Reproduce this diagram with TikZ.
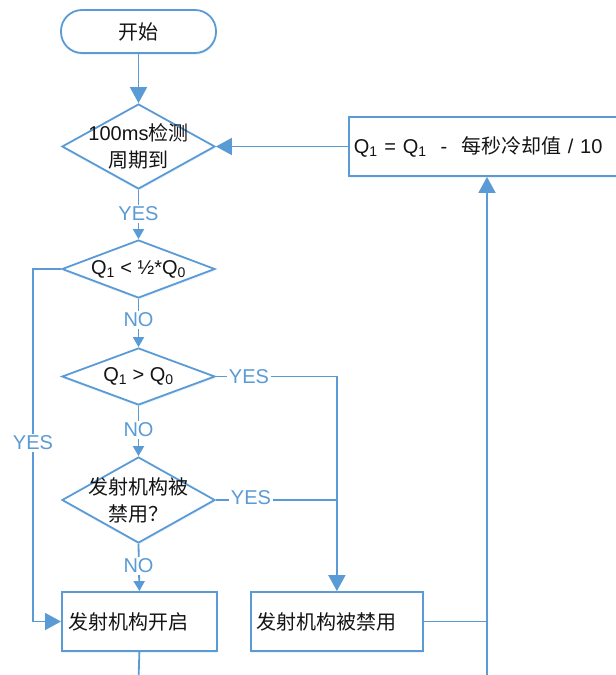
\documentclass[tikz,border=0pt]{standalone}
\usepackage{fontspec}
\setmainfont{Liberation Sans}
\newfontfamily\cjkfont{Noto Sans CJK SC}
\newcommand{\zh}[1]{{\cjkfont #1}}
\usetikzlibrary{shapes.geometric,arrows.meta,shadows}
\definecolor{fblue}{HTML}{5B9BD5}
\definecolor{ftext}{HTML}{141414}
\begin{document}
\begin{tikzpicture}[x=1pt,y=-1pt,
  font=\fontsize{20}{27}\selectfont,
  base/.style={draw=fblue, line width=1.8pt, fill=white, text=ftext,
    drop shadow={shadow xshift=0.5pt, shadow yshift=-2pt, fill=fblue, opacity=0.12}},
  term/.style={base, rectangle, rounded corners=21pt, minimum width=155pt, minimum height=43pt, inner sep=0pt},
  dec/.style={base, diamond, inner sep=0pt, minimum width=153pt},
  proc/.style={base, rectangle, minimum height=59pt, inner ysep=0pt, align=left, anchor=west},
  conn/.style={draw=fblue, line width=1.8pt},
  bigarrow/.style={conn, -{Triangle[length=16pt,width=17pt]}},
  smallarrow/.style={conn, -{Triangle[length=10pt,width=11pt]}},
  lbl/.style={fill=white, text=fblue, inner sep=1.5pt},
  dtext/.style={align=center, text=ftext}
]
\useasboundingbox (0,0) rectangle (616,675);

% nodes
\node[term] (start) at (138.5,31.5) {\zh{开始}};
\node[dec, minimum height=85pt, label={[dtext]center:100ms\zh{检测}\\\zh{周期到}}] (d1) at (138.5,146.5) {};
\node[dec, minimum height=58pt, label={[dtext]center:Q\textsubscript{1} < ½*Q\textsubscript{0}}] (d2) at (138.5,269) {};
\node[dec, minimum height=57pt, label={[dtext]center:Q\textsubscript{1} > Q\textsubscript{0}}] (d3) at (138.5,376.5) {};
\node[dec, minimum height=86pt, label={[dtext]center:\zh{发射机构被}\\\zh{禁用？}}] (d4) at (138.5,500) {};

\node[proc, inner xsep=5pt, text width=262pt] (qbox) at (348,146.5)
  {Q\textsubscript{1} = Q\textsubscript{1}\hspace{0.7em}-\hspace{0.7em}\zh{每秒冷却值} / 10};
\node[proc, inner xsep=7pt, text width=141pt] (box1) at (61,621.5) {\zh{发射机构开启}};
\node[proc, inner xsep=6pt, text width=160pt] (box2) at (250,621.5) {\zh{发射机构被禁用}};

\coordinate (leftx) at (33,0);
\coordinate (bot1) at (138.5,680);
\coordinate (bot2) at (487,680);

% connectors
\draw[bigarrow] (start.south) -- (d1.north);
\draw[bigarrow] (qbox.west) -- (d1.east);
\draw[smallarrow] (d1.south) -- (d2.north);
\draw[bigarrow] (d2.west) -- (d2.west -| leftx) -- (box1.west -| leftx) -- (box1.west);
\draw[smallarrow] (d2.south) -- (d3.north);
\draw[bigarrow] (d3.east) -- (d3.east -| box2.north) -- (box2.north);
\draw[smallarrow] (d3.south) -- (d4.north);
\draw[conn] (d4.east) -- (d4.east -| box2.north);
\draw[smallarrow] (d4.south) -- (box1.north);
\draw[conn] (box1.south) -- (bot1);
\draw[conn] (box2.east) -- (box2.east -| bot2);
\draw[bigarrow] (bot2) -- (bot2 |- qbox.south);

% labels
\node[lbl] (l1) at (138.5,214) {YES};
\node[lbl] (l2) at (33,443) {YES};
\node[lbl] (l3) at (138.5,320) {NO};
\node[lbl] (l4) at (249,377) {YES};
\node[lbl] (l5) at (138.5,430) {NO};
\node[lbl] (l6) at (251,498) {YES};
\node[lbl] (l7) at (138.5,566) {NO};
\end{tikzpicture}
\end{document}
